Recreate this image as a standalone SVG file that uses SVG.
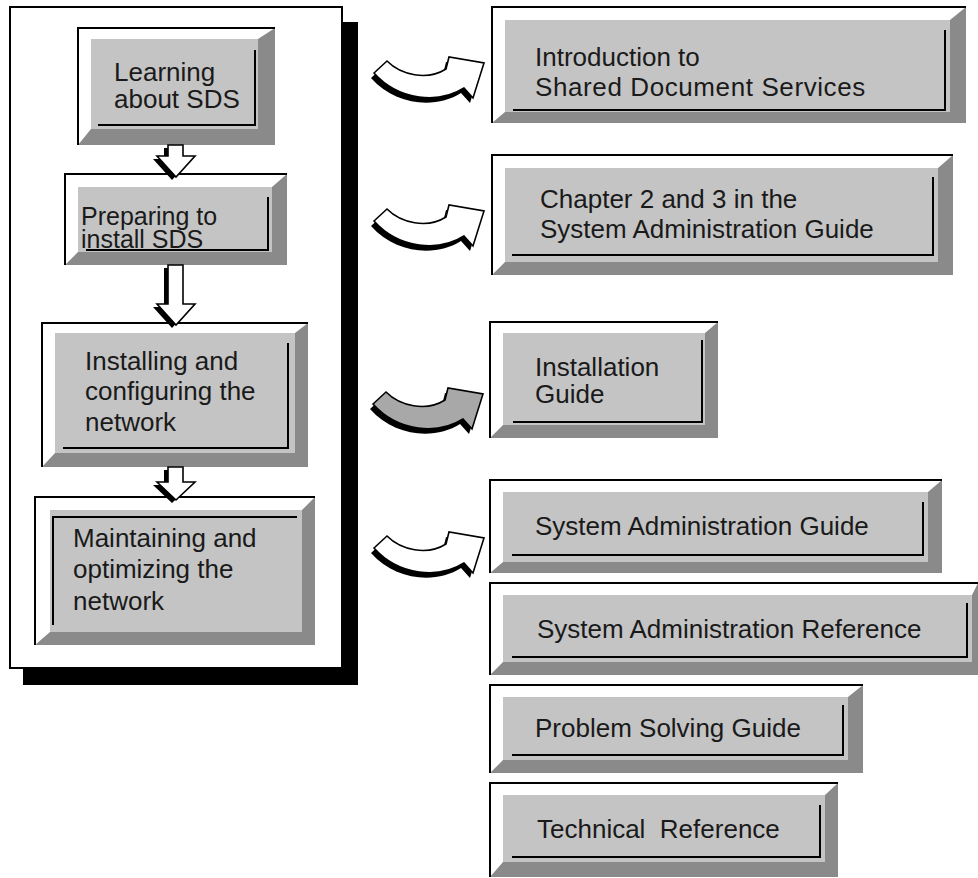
<svg xmlns="http://www.w3.org/2000/svg" xmlns:xlink="http://www.w3.org/1999/xlink" width="978" height="878" viewBox="0 0 978 878">
  <style>
    .hi { fill: #ffffff; }
    .lo { fill: #8a8a8a; }
    .panel { fill: #c4c4c4; }
    .edge { fill: none; stroke: #000; stroke-width: 2; }
    .inset { fill: none; stroke: #000; stroke-width: 2; }
    .lbl { font-family: "Liberation Sans", Arial, sans-serif; font-size: 26px; fill: #1a1a1a; white-space: pre; }
    .tight { font-size: 25px; }
    .shadow { fill: #000; }
    .arrow { fill: #fff; stroke: #000; stroke-width: 1.6; stroke-linejoin: miter; }
    .arrow.grey { fill: #a8a8a8; }
  </style>
  <defs>
    <!-- curved "see also" arrow, drawn once and placed with transforms -->
    <path id="curl" d="M19,33 L32,21 C46,35 72,41 91,29 L94,17 L129,23 L118,58 L109,48 C84,64 44,61 19,33 Z"/>
  </defs>

  <rect width="978" height="878" fill="#fff"/>

  <!-- left panel with its drop shadow -->
  <g id="frame">
    <rect x="23" y="22" width="335" height="663" fill="#000"/>
    <rect x="10" y="7" width="332" height="661" fill="#fff" stroke="#000" stroke-width="2"/>
  </g>

  <!-- left column: workflow steps -->
  <g id="step-learning">
    <polygon class="hi" points="78,28 275,28 258,39 91,39 91,129 78,145"/>
    <polygon class="lo" points="275,28 275,145 78,145 91,129 258,129 258,39"/>
    <rect class="panel" x="91" y="39" width="167" height="90"/>
    <path class="edge" d="M78,145 V28 H275"/>
    <path class="inset" d="M98,125 H255 V50"/>
    <text class="lbl" x="114" y="81">Learning</text>
    <text class="lbl" x="114" y="108">about SDS</text>
  </g>

  <g id="step-preparing">
    <polygon class="hi" points="65,174 287,174 272,187 78,187 78,252 65,265"/>
    <polygon class="lo" points="287,174 287,265 65,265 78,252 272,252 272,187"/>
    <rect class="panel" x="78" y="187" width="194" height="65"/>
    <path class="edge" d="M65,265 V174 H287"/>
    <path class="inset" d="M86,250 H268 V197"/>
    <text class="lbl tight" x="81" y="225">Preparing to</text>
    <text class="lbl tight" x="81" y="248">install SDS</text>
  </g>

  <g id="step-installing">
    <polygon class="hi" points="42,323 308,323 295,333 55,333 55,453 42,467"/>
    <polygon class="lo" points="308,323 308,467 42,467 55,453 295,453 295,333"/>
    <rect class="panel" x="55" y="333" width="240" height="120"/>
    <path class="edge" d="M42,467 V323 H308"/>
    <path class="inset" d="M63,448 H288 V343"/>
    <text class="lbl" x="85" y="370">Installing and</text>
    <text class="lbl" x="85" y="400">configuring the</text>
    <text class="lbl" x="85" y="431">network</text>
  </g>

  <g id="step-maintaining">
    <polygon class="hi" points="35,497 315,497 302,510 50,510 50,632 35,645"/>
    <polygon class="lo" points="315,497 315,645 35,645 50,632 302,632 302,510"/>
    <rect class="panel" x="50" y="510" width="252" height="122"/>
    <path class="edge" d="M35,645 V497 H315"/>
    <path class="inset" d="M53,625 V517 H297"/>
    <text class="lbl" x="73" y="547">Maintaining and</text>
    <text class="lbl" x="73" y="578">optimizing the</text>
    <text class="lbl" x="73" y="610">network</text>
  </g>

  <!-- right column: documentation -->
  <g id="doc-intro">
    <polygon class="hi" points="492,7 966,7 950,20 505,20 505,112 492,123"/>
    <polygon class="lo" points="966,7 966,123 492,123 505,112 950,112 950,20"/>
    <rect class="panel" x="505" y="20" width="445" height="92"/>
    <path class="edge" d="M492,123 V7 H966"/>
    <path class="inset" d="M513,110 H945 V30"/>
    <text class="lbl" x="535" y="66">Introduction to</text>
    <text class="lbl" x="535" y="96" letter-spacing="0.6">Shared Document Services</text>
  </g>

  <g id="doc-chapters">
    <polygon class="hi" points="492,155 953,155 938,168 505,168 505,262 492,275"/>
    <polygon class="lo" points="953,155 953,275 492,275 505,262 938,262 938,168"/>
    <rect class="panel" x="505" y="168" width="433" height="94"/>
    <path class="edge" d="M492,275 V155 H953"/>
    <path class="inset" d="M512,255 H933 V177"/>
    <text class="lbl" x="540" y="208">Chapter 2 and 3 in the</text>
    <text class="lbl" x="540" y="238">System Administration Guide</text>
  </g>

  <g id="doc-installation">
    <polygon class="hi" points="490,322 718,322 705,333 503,333 503,425 490,438"/>
    <polygon class="lo" points="718,322 718,438 490,438 503,425 705,425 705,333"/>
    <rect class="panel" x="503" y="333" width="202" height="92"/>
    <path class="edge" d="M490,438 V322 H718"/>
    <path class="inset" d="M513,422 H702 V340"/>
    <text class="lbl" x="535" y="376">Installation</text>
    <text class="lbl" x="535" y="403">Guide</text>
  </g>

  <g id="doc-admin-guide">
    <polygon class="hi" points="490,480 942,480 928,492 503,492 503,562 490,573"/>
    <polygon class="lo" points="942,480 942,573 490,573 503,562 928,562 928,492"/>
    <rect class="panel" x="503" y="492" width="425" height="70"/>
    <path class="edge" d="M490,573 V480 H942"/>
    <path class="inset" d="M512,555 H923 V502"/>
    <text class="lbl" x="535" y="535">System Administration Guide</text>
  </g>

  <g id="doc-admin-reference">
    <polygon class="hi" points="490,583 978,583 972,595 503,595 503,662 490,675"/>
    <polygon class="lo" points="978,583 978,675 490,675 503,662 972,662 972,595"/>
    <rect class="panel" x="503" y="595" width="469" height="67"/>
    <path class="edge" d="M490,675 V583 H978"/>
    <path class="inset" d="M512,657 H967 V603"/>
    <text class="lbl" x="537" y="638">System Administration Reference</text>
  </g>

  <g id="doc-problem-solving">
    <polygon class="hi" points="490,685 863,685 848,697 503,697 503,760 490,773"/>
    <polygon class="lo" points="863,685 863,773 490,773 503,760 848,760 848,697"/>
    <rect class="panel" x="503" y="697" width="345" height="63"/>
    <path class="edge" d="M490,773 V685 H863"/>
    <path class="inset" d="M512,755 H843 V705"/>
    <text class="lbl" x="535" y="737">Problem Solving Guide</text>
  </g>

  <g id="doc-technical">
    <polygon class="hi" points="490,783 838,783 825,795 503,795 503,862 490,877"/>
    <polygon class="lo" points="838,783 838,877 490,877 503,862 825,862 825,795"/>
    <rect class="panel" x="503" y="795" width="322" height="67"/>
    <path class="edge" d="M490,877 V783 H838"/>
    <path class="inset" d="M512,857 H820 V805"/>
    <text class="lbl" x="537" y="838">Technical  Reference</text>
  </g>

  <!-- connectors: block arrows between steps, curved arrows to documents -->
  <g id="connectors">
    <g transform="translate(-4,3)" class="shadow">
      <path d="M168,145 H183 V156 H195 L176,177 L157,156 H168 Z"/>
      <path d="M168,265 H183 V304 H195 L176,325 L157,304 H168 Z"/>
      <path d="M168,467 H183 V482 H195 L176,500 L157,482 H168 Z"/>
    </g>
    <path class="arrow" d="M168,145 H183 V156 H195 L176,177 L157,156 H168 Z"/>
    <path class="arrow" d="M168,265 H183 V304 H195 L176,325 L157,304 H168 Z"/>
    <path class="arrow" d="M168,467 H183 V482 H195 L176,500 L157,482 H168 Z"/>

    <g transform="translate(355,40)">
      <use xlink:href="#curl" class="shadow" transform="translate(-3,5)"/>
      <use xlink:href="#curl" class="arrow"/>
    </g>
    <g transform="translate(355,188)">
      <use xlink:href="#curl" class="shadow" transform="translate(-3,5)"/>
      <use xlink:href="#curl" class="arrow"/>
    </g>
    <g transform="translate(354,371)">
      <use xlink:href="#curl" class="shadow" transform="translate(-3,5)"/>
      <use xlink:href="#curl" class="arrow grey"/>
    </g>
    <g transform="translate(355,515)">
      <use xlink:href="#curl" class="shadow" transform="translate(-3,5)"/>
      <use xlink:href="#curl" class="arrow"/>
    </g>
  </g>
</svg>
